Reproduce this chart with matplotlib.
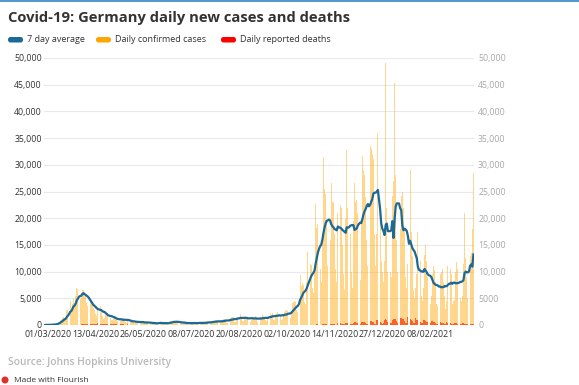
import matplotlib
matplotlib.use("Agg")
import matplotlib.pyplot as plt
import matplotlib.transforms as mtransforms
from matplotlib.patches import FancyBboxPatch, Circle
from matplotlib.lines import Line2D
import pandas as pd

# ---------------------------------------------------------------- data
START_DATE = "2020-02-27"

# daily confirmed cases, one row per week (Thursday .. Wednesday)
daily_cases = [
    5, 15, 25, 30, 40, 50, 80,
    120, 190, 150, 100, 280, 450, 780,
    1000, 1000, 1300, 1500, 1300, 1400, 2900,
    2900, 2700, 4500, 2400, 4000, 4800, 4100,
    5500, 6900, 6800, 5000, 4800, 5200, 6500,
    6500, 5800, 5600, 4100, 3500, 3300, 4300,
    4100, 3900, 3100, 2800, 2100, 1600, 3400,
    3400, 3600, 2500, 1700, 1200, 1300, 1900,
    2300, 2100, 1800, 1300, 900, 900, 1200,
    1600, 1600, 950, 700, 700, 700, 1250,
    1200, 1250, 1100, 650, 400, 900, 800,
    950, 620, 580, 580, 340, 420, 800,
    750, 460, 640, 430, 290, 430, 360,
    740, 350, 740, 300, 180, 200, 350,
    400, 480, 400, 240, 200, 380, 560,
    550, 160, 400, 250, 180, 350, 400,
    580, 770, 600, 690, 540, 500, 600,
    630, 480, 690, 260, 300, 470, 400,
    500, 420, 240, 300, 210, 400, 400,
    440, 530, 380, 160, 160, 400, 590,
    530, 580, 250, 290, 250, 450, 580,
    820, 780, 300, 310, 570, 630, 820,
    900, 950, 630, 240, 500, 880, 740,
    1150, 1120, 1100, 440, 440, 960, 1230,
    1440, 1510, 1440, 620, 560, 1390, 1510,
    1700, 2030, 1500, 660, 710, 1280, 1570,
    1500, 1570, 1480, 610, 960, 1230, 1300,
    1450, 1700, 1200, 600, 800, 1500, 1200,
    1900, 1630, 1500, 900, 700, 1400, 2000,
    2200, 1900, 2300, 900, 900, 1800, 2000,
    2400, 2500, 1900, 1000, 1200, 1800, 2500,
    2700, 2800, 2600, 1400, 1300, 2600, 4100,
    4400, 4500, 4300, 2900, 2400, 5000, 9400,
    7300, 7800, 7400, 4400, 4000, 8000, 13600,
    11200, 11500, 11300, 6900, 6000, 11000, 22600,
    18200, 19000, 16000, 10500, 8000, 17200, 31500,
    25500, 24500, 19500, 11000, 9000, 16000, 26600,
    23000, 23000, 17000, 10500, 8000, 21000, 25600,
    22500, 22000, 15000, 9500, 6500, 19800, 32800,
    22000, 22500, 17000, 10000, 7000, 19500, 26600,
    23000, 23500, 21000, 12000, 8500, 19000, 31600,
    29000, 28000, 24000, 16000, 11000, 16000, 33500,
    33000, 32000, 31000, 17000, 11000, 17100, 36000,
    20000, 20000, 12000, 10000, 8000, 12000, 49000,
    22000, 10000, 12000, 10000, 9000, 24100, 27000,
    45300, 28000, 16000, 10000, 9000, 18000, 24200,
    25000, 22000, 18000, 9000, 7000, 11500, 13900,
    29000, 17500, 13000, 6500, 5000, 7000, 9500,
    17400, 14000, 12000, 5500, 4500, 7000, 13100,
    15000, 12000, 9000, 4500, 4000, 5500, 9500,
    11000, 10300, 8000, 4000, 3500, 4000, 9600,
    10000, 10500, 8000, 5500, 3000, 4500, 11000,
    11500, 10500, 9500, 4000, 4500, 4600, 10000,
    11800, 10500, 10000, 5000, 4500, 5500, 11500,
    21000, 12500, 9000, 5000, 5500, 13000, 13500,
    18000, 28500,
]

# daily reported deaths, same weekly layout
daily_deaths = [
    0, 0, 0, 0, 0, 0, 0,
    0, 0, 0, 0, 2, 0, 1,
    0, 3, 2, 4, 5, 7, 9,
    15, 20, 15, 20, 25, 35, 45,
    60, 70, 90, 70, 80, 130, 150,
    170, 180, 170, 130, 100, 200, 250,
    250, 240, 200, 130, 130, 280, 300,
    270, 240, 190, 120, 110, 260, 280,
    220, 180, 160, 110, 100, 200, 250,
    160, 130, 100, 60, 70, 160, 170,
    120, 100, 80, 40, 40, 100, 110,
    70, 60, 50, 30, 20, 70, 60,
    50, 40, 30, 15, 20, 45, 50,
    35, 30, 25, 10, 10, 30, 35,
    25, 25, 15, 10, 8, 20, 30,
    15, 12, 10, 5, 5, 15, 18,
    12, 10, 8, 4, 4, 10, 14,
    10, 8, 6, 3, 3, 9, 12,
    8, 7, 5, 2, 2, 7, 9,
    8, 7, 5, 2, 2, 7, 9,
    8, 7, 5, 2, 2, 7, 9,
    8, 7, 5, 2, 2, 7, 9,
    8, 7, 5, 2, 2, 7, 9,
    8, 6, 5, 2, 2, 8, 10,
    8, 6, 5, 2, 2, 8, 10,
    8, 6, 5, 2, 2, 8, 10,
    8, 6, 5, 2, 2, 8, 10,
    8, 6, 5, 2, 2, 8, 10,
    8, 6, 5, 2, 2, 8, 10,
    8, 6, 5, 2, 2, 8, 10,
    8, 6, 5, 2, 2, 8, 10,
    12, 10, 8, 4, 5, 12, 15,
    18, 15, 12, 6, 6, 20, 25,
    35, 30, 25, 12, 12, 40, 45,
    55, 50, 40, 20, 25, 70, 85,
    100, 95, 75, 35, 40, 130, 150,
    170, 160, 120, 60, 60, 220, 260,
    240, 210, 170, 90, 90, 300, 330,
    330, 280, 230, 120, 120, 380, 420,
    400, 350, 280, 150, 150, 450, 500,
    480, 420, 340, 180, 180, 520, 600,
    560, 500, 400, 210, 220, 650, 720,
    750, 650, 520, 280, 280, 900, 1000,
    800, 500, 450, 280, 330, 900, 1100,
    900, 650, 500, 350, 380, 1000, 1100,
    1200, 1050, 750, 450, 450, 1300, 1250,
    1200, 1100, 750, 450, 450, 1500, 1300,
    1050, 900, 700, 420, 400, 1250, 1000,
    900, 800, 600, 350, 350, 1000, 900,
    750, 650, 500, 300, 300, 800, 700,
    560, 500, 400, 230, 230, 620, 550,
    450, 400, 320, 180, 180, 480, 420,
    380, 340, 270, 150, 150, 400, 360,
    320, 280, 230, 120, 130, 330, 300,
    260, 240, 190, 100, 110, 280, 250,
    230, 220,
]

tick_dates = ["2020-03-01", "2020-04-13", "2020-05-26", "2020-07-08",
              "2020-08-20", "2020-10-02", "2020-11-14", "2020-12-27",
              "2021-02-08"]
y_ticks = [0, 5000, 10000, 15000, 20000, 25000, 30000, 35000, 40000, 45000, 50000]
left_labels = ["0", "5,000", "10,000", "15,000", "20,000", "25,000",
               "30,000", "35,000", "40,000", "45,000", "50,000"]
right_labels = ["0", "5000", "10,000", "15,000", "20,000", "25,000",
                "30,000", "35,000", "40,000", "45,000", "50,000"]

title = "Covid-19: Germany daily new cases and deaths"
legend_items = [("7 day average", "#1d6996"),
                ("Daily confirmed cases", "#ffa500"),
                ("Daily reported deaths", "#ff0000")]
source_note = "Source: Johns Hopkins University"
credit = "Made with Flourish"

# ---------------------------------------------------------------- figure
W, H = 579, 385
plt.rcParams["font.family"] = ["Open Sans", "DejaVu Sans"]
fig = plt.figure(figsize=(W / 100, H / 100), dpi=100)
px = mtransforms.Affine2D().scale(1 / W, -1 / H).translate(0, 1) + fig.transFigure

dates = pd.date_range(START_DATE, periods=len(daily_cases), freq="D")
cases = pd.Series(daily_cases, index=dates)
deaths = pd.Series(daily_deaths, index=dates)
avg7 = cases.rolling(7, min_periods=1).mean()

ax_l, ax_r, ax_t, ax_b = 44, 474, 58, 325
ax = fig.add_axes([ax_l / W, (H - ax_b) / H, (ax_r - ax_l) / W, (ax_b - ax_t) / H])

ax.bar(dates, cases.values, width=0.88, color="#ffa500", alpha=0.45,
       linewidth=0, zorder=2)
ax.bar(dates, deaths.values, width=0.88, color="#ff3300", alpha=0.72,
       linewidth=0, zorder=3)
ax.plot(dates, avg7.values, color="#1d6996", lw=1.6, zorder=4,
        solid_joinstyle="round")

ax.set_ylim(0, 50000)
ax.set_xlim(dates[0] - pd.Timedelta(hours=12), dates[-1] + pd.Timedelta(hours=12))
for s in ax.spines.values():
    s.set_visible(False)
ax.set_yticks(y_ticks)
ax.set_yticklabels(left_labels)
ax.grid(axis="y", color="#e9e9e9", lw=0.8, zorder=0)
ax.set_axisbelow(True)
ax.set_xticks(pd.to_datetime(tick_dates))
ax.set_xticklabels([pd.Timestamp(d).strftime("%d/%m/%Y") for d in tick_dates])
ax.tick_params(axis="y", length=0, pad=1.5, labelsize=6.3, labelcolor="#333333")
ax.tick_params(axis="x", length=0, pad=3.5, labelsize=6.4, labelcolor="#333333")

ax2 = ax.twinx()
ax2.set_ylim(0, 50000)
ax2.set_yticks(y_ticks)
ax2.set_yticklabels(right_labels)
ax2.tick_params(axis="y", length=0, pad=3, labelsize=6.3, labelcolor="#a8a8a8")
for s in ax2.spines.values():
    s.set_visible(False)

# thin accent rule along the top edge
fig.add_artist(Line2D([0, W], [0.8, 0.8], transform=px, color="#3f8fcc", lw=1.3))

fig.text(8, 18, title, transform=px, fontsize=10.6, fontweight="bold",
         color="#333333", va="center", ha="left")

# legend row
lx = [8, 96, 221]
for (label, colour), x0 in zip(legend_items, lx):
    fig.add_artist(FancyBboxPatch((x0, 37), 15, 5.5, transform=px,
                                  boxstyle="round,pad=0,rounding_size=2.5",
                                  facecolor=colour, edgecolor="none"))
    fig.text(x0 + 19, 39.5, label, transform=px, fontsize=6.5,
             color="#333333", va="center", ha="left")

fig.text(8, 362, source_note, transform=px, fontsize=7.4, fontweight="semibold",
         color="#b8b8b8", va="center", ha="left")
fig.add_artist(Circle((5, 380), 3.5, transform=px, facecolor="#e0302a",
                      edgecolor="none"))
fig.text(14, 380, credit, transform=px, fontsize=6, color="#333333",
         va="center", ha="left")

fig.savefig("out.png", dpi=100)
